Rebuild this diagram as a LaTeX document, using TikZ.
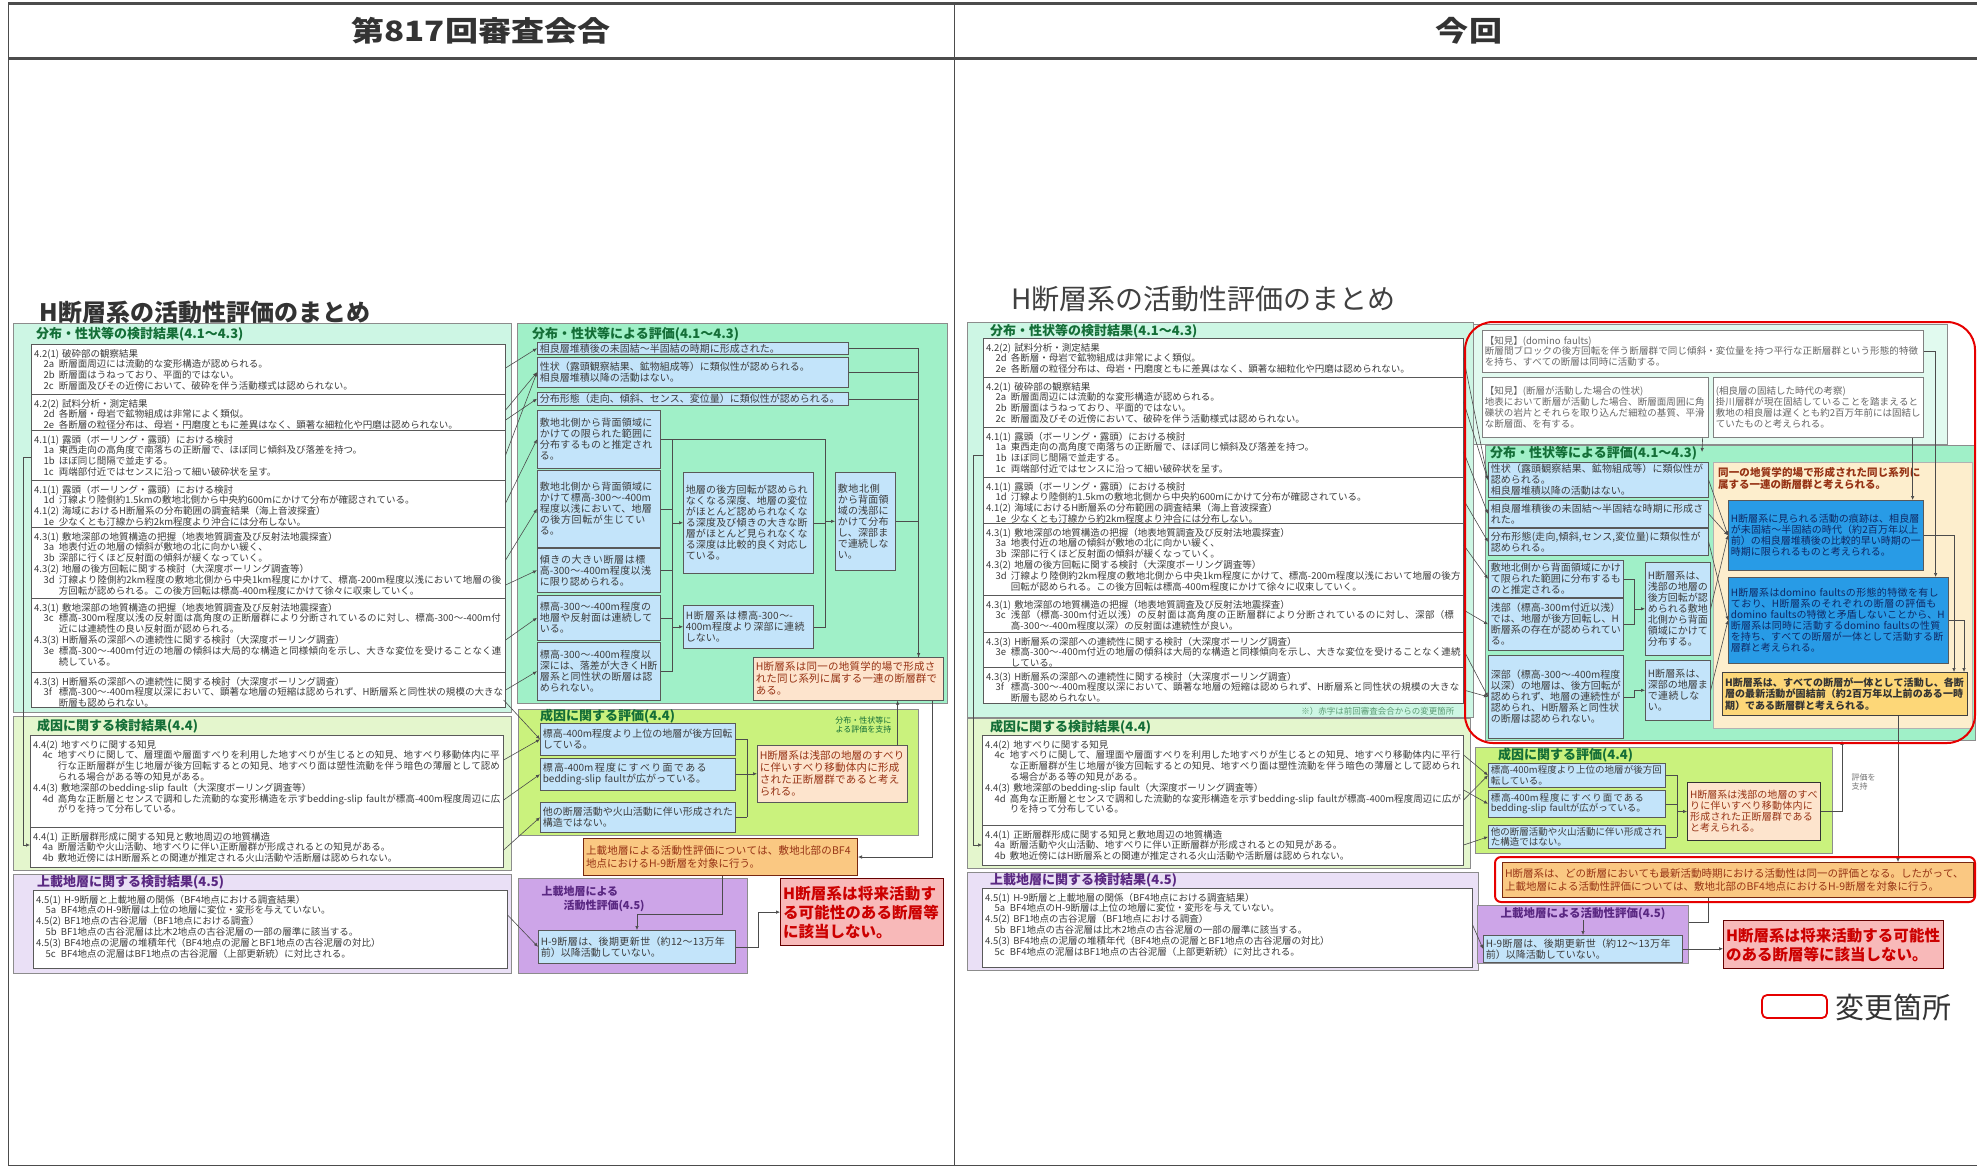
\documentclass[tikz,border=0pt]{standalone}
\usepackage{fontspec}
\setmainfont{Noto Sans CJK JP}
\XeTeXlinebreaklocale "ja"
\XeTeXlinebreakskip=0pt plus 1pt
\usetikzlibrary{arrows.meta, calc}
\definecolor{fillMint}{RGB}{205,246,228}
\definecolor{fillMintB}{RGB}{160,240,200}
\definecolor{fillLime}{RGB}{228,246,205}
\definecolor{fillLimeB}{RGB}{202,242,125}
\definecolor{fillLav}{RGB}{234,224,246}
\definecolor{fillLavB}{RGB}{205,165,232}
\definecolor{fillBlue}{RGB}{195,228,250}
\definecolor{fillDeep}{RGB}{40,155,230}
\definecolor{fillPeach}{RGB}{253,228,205}
\definecolor{fillOrange}{RGB}{250,200,130}
\definecolor{fillPink}{RGB}{248,185,185}
\definecolor{fillGold}{RGB}{253,215,120}
\definecolor{fillCream}{RGB}{253,238,205}
\definecolor{hdgreen}{RGB}{20,110,55}
\definecolor{hdpurple}{RGB}{90,40,130}
\definecolor{txtgray}{RGB}{60,60,60}
\definecolor{brownred}{RGB}{150,50,20}
\definecolor{navytxt}{RGB}{15,40,100}
\definecolor{markred}{RGB}{230,0,0}
\newcommand{\fsz}[2]{\fontsize{#1}{#2}\selectfont}
\newcommand{\ghead}[1]{\par\noindent#1\par}
\newcommand{\gitem}[2]{{\leftskip=2.6em\noindent\hspace*{-1.6em}\makebox[1.6em][l]{#1}#2\par}}
\tikzset{
  % 表の枠
  frame/.style     = {line width=3pt, draw=black!70},
  thinframe/.style = {line width=1pt, draw=black!70},
  colhd/.style     = {font=\bfseries\fsz{28}{30}, text=black!80},
  % 区画と枠
  wh/.style 2 args = {minimum width=#1pt, minimum height=#2pt, text width=#1pt-5pt},
  sec/.style       = {draw=black!45, line width=0.8pt, anchor=north west, inner sep=0pt},
  txtbox/.style    = {draw=black!65, fill=white, line width=0.6pt, anchor=north west, inner sep=0pt},
  divline/.style   = {draw=black!65, line width=0.6pt},
  note/.style      = {anchor=north west, inner sep=1pt, align=left, text=txtgray, font=\fsz{9.5}{10.8}},
  sechd/.style     = {anchor=west, inner sep=0pt, font=\bfseries\fsz{13}{14}, text=hdgreen},
  % 評価の箱
  bluebox/.style   = {draw=black!65, fill=fillBlue, line width=0.6pt, anchor=north west, inner sep=2pt,
                      align=left, text=txtgray, font=\fsz{10}{11}},
  deepbox/.style   = {bluebox, fill=fillDeep, text=navytxt},
  peachbox/.style  = {bluebox, fill=fillPeach, text=brownred, font=\fsz{10.5}{12}},
  orangebox/.style = {bluebox, fill=fillOrange, draw=brownred!80!black, line width=1pt, text=brownred,
                      font=\fsz{10.5}{13}},
  goldbox/.style   = {bluebox, fill=fillGold, draw=black!75, line width=1pt, text=black!80,
                      font=\bfseries\fsz{10}{11.5}},
  pinkbox/.style   = {bluebox, fill=fillPink, draw=red!40!black, line width=1.2pt, text=red!80!black,
                      font=\bfseries\fsz{15.5}{19}},
  knowbox/.style   = {bluebox, fill=white, draw=black!50, text=black!60, font=\fsz{9.5}{10.8}},
  % 矢印
  lin/.style       = {draw=black!70, line width=0.6pt},
  arr/.style       = {lin, -{Latex[length=4pt, width=3.5pt]}},
}
\begin{document}
\begin{tikzpicture}[x=1pt, y=-1pt]
  \useasboundingbox (0,0) rectangle (1977,1168);
  \fill[white] (0,0) rectangle (1977,1168);
  % 表の枠と見出し
  \draw[frame] (8,3) -- (1977,3);
  \draw[frame] (8,58) -- (1977,58);
  \draw[thinframe] (8,3) -- (8,1165) -- (1977,1165);
  \draw[thinframe] (954,3) -- (954,1165);
  \node[colhd] (hdold) at (481,31) {\scalebox{1.18}[1]{第817回審査会合}};
  \node[colhd] (hdnew) at (1469,31) {\scalebox{1.18}[1]{今回}};

  %% ===== 第817回審査会合 =====
  \node[anchor=west, font=\bfseries\fsz{24}{26}, text=black!80] (otitle) at (36,312) {H断層系の活動性評価のまとめ};
  % 分布・性状等の検討結果
  \node[sec, fill=fillMint, wh={498}{389}] (osec1) at (13,323) {};
  \node[sechd] (osec1hd) at (36,334) {分布・性状等の検討結果(4.1～4.3)};
  \node[txtbox, wh={474}{363}] (ow1) at (31,344) {};
  \foreach \yy in {394,430,480,527,598,672} \draw[divline] (31,\yy) -- (505,\yy);
  \node[note, text width=470pt] (ot1) at (33,345) {\ghead{4.2(1) 破砕部の観察結果}
    \gitem{2a}{断層面周辺には流動的な変形構造が認められる。}
    \gitem{2b}{断層面はうねっており、平面的ではない。}
    \gitem{2c}{断層面及びその近傍において、破砕を伴う活動様式は認められない。}};
  \node[note, text width=470pt] (ot2) at (33,395) {\ghead{4.2(2) 試料分析・測定結果}
    \gitem{2d}{各断層・母岩で鉱物組成は非常によく類似。}
    \gitem{2e}{各断層の粒径分布は、母岩・円磨度ともに差異はなく、顕著な細粒化や円磨は認められない。}};
  \node[note, text width=470pt] (ot3) at (33,431) {\ghead{4.1(1) 露頭（ボーリング・露頭）における検討}
    \gitem{1a}{東西走向の高角度で南落ちの正断層で、ほぼ同じ傾斜及び落差を持つ。}
    \gitem{1b}{ほぼ同じ間隔で並走する。}
    \gitem{1c}{両端部付近ではセンスに沿って細い破砕状を呈す。}};
  \node[note, text width=470pt] (ot4) at (33,481) {\ghead{4.1(1) 露頭（ボーリング・露頭）における検討}
    \gitem{1d}{汀線より陸側約1.5kmの敷地北側から中央約600mにかけて分布が確認されている。}
    \ghead{4.1(2) 海域におけるH断層系の分布範囲の調査結果（海上音波探査）}
    \gitem{1e}{少なくとも汀線から約2km程度より沖合には分布しない。}};
  \node[note, text width=470pt] (ot5) at (33,528) {\ghead{4.3(1) 敷地深部の地質構造の把握（地表地質調査及び反射法地震探査）}
    \gitem{3a}{地表付近の地層の傾斜が敷地の北に向かい緩く、}
    \gitem{3b}{深部に行くほど反射面の傾斜が緩くなっていく。}
    \ghead{4.3(2) 地層の後方回転に関する検討（大深度ボーリング調査等）}
    \gitem{3d}{汀線より陸側約2km程度の敷地北側から中央1km程度にかけて、標高-200m程度以浅において地層の後方回転が認められる。この後方回転は標高-400m程度にかけて徐々に収束していく。}};
  \node[note, text width=470pt] (ot6) at (33,599) {\ghead{4.3(1) 敷地深部の地質構造の把握（地表地質調査及び反射法地震探査）}
    \gitem{3c}{標高-300m程度以浅の反射面は高角度の正断層群により分断されているのに対し、標高-300～-400m付近には連続性の良い反射面が認められる。}
    \ghead{4.3(3) H断層系の深部への連続性に関する検討（大深度ボーリング調査）}
    \gitem{3e}{標高-300～-400m付近の地層の傾斜は大局的な構造と同様傾向を示し、大きな変位を受けることなく連続している。}};
  \node[note, text width=470pt] (ot7) at (33,673) {\ghead{4.3(3) H断層系の深部への連続性に関する検討（大深度ボーリング調査）}
    \gitem{3f}{標高-300～-400m程度以深において、顕著な地層の短縮は認められず、H断層系と同性状の規模の大きな断層も認められない。}};

  % 分布・性状等による評価
  \node[sec, fill=fillMintB, wh={430}{380}] (oev) at (517,323) {};
  \node[sechd] (oevhd) at (532,334) {分布・性状等による評価(4.1～4.3)};
  \node[bluebox, wh={311}{12}, inner sep=0.5pt] (ob1) at (537,342) {相良層堆積後の未固結～半固結の時期に形成された。};
  \node[bluebox, wh={311}{30}] (ob2) at (537,357) {性状（露頭観察結果、鉱物組成等）に類似性が認められる。\\相良層堆積以降の活動はない。};
  \node[bluebox, wh={311}{13}, inner sep=0.5pt] (ob3) at (537,392) {分布形態（走向、傾斜、センス、変位量）に類似性が認められる。};
  \node[bluebox, wh={123}{58}] (ob4) at (537,410) {敷地北側から背面領域にかけての限られた範囲に分布するものと推定される。};
  \node[bluebox, wh={123}{77}] (ob5) at (537,470) {敷地北側から背面領域にかけて標高-300～-400m程度以浅において、地層の後方回転が生じている。};
  \node[bluebox, wh={123}{44}] (ob6) at (537,548) {傾きの大きい断層は標高-300～-400m程度以浅に限り認められる。};
  \node[bluebox, wh={123}{45}] (ob7) at (537,595) {標高-300～-400m程度の地層や反射面は連続している。};
  \node[bluebox, wh={123}{58}] (ob8) at (537,642) {標高-300～-400m程度以深には、落差が大きくH断層系と同性状の断層は認められない。};
  \node[bluebox, wh={130}{101}] (om1) at (683,472) {地層の後方回転が認められなくなる深度、地層の変位がほとんど認められなくなる深度及び傾きの大きな断層がほとんど見られなくなる深度は比較的良く対応している。};
  \node[bluebox, wh={130}{43}] (om2) at (683,605) {H断層系は標高-300～-400m程度より深部に連続しない。};
  \node[bluebox, wh={60}{98}] (or1) at (835,472) {敷地北側から背面領域の浅部にかけて分布し、深部まで連続しない。};
  \node[peachbox, wh={190}{43}] (oc1) at (753,657) {H断層系は同一の地質学的場で形成された同じ系列に属する一連の断層群である。};

  % 成因に関する検討結果
  \node[sec, fill=fillLime, wh={498}{154}] (osec4) at (13,716) {};
  \node[sechd] (osec4hd) at (37,726) {成因に関する検討結果(4.4)};
  \node[txtbox, wh={473}{132}] (ow4) at (30,735) {};
  \draw[divline] (30,827) -- (503,827);
  \node[note, text width=469pt] (ot8) at (32,736) {\ghead{4.4(2) 地すべりに関する知見}
    \gitem{4c}{地すべりに関して、層理面や層面すべりを利用した地すべりが生じるとの知見、地すべり移動体内に平行な正断層群が生じ地層が後方回転するとの知見、地すべり面は塑性流動を伴う暗色の薄層として認められる場合がある等の知見がある。}
    \ghead{4.4(3) 敷地深部のbedding-slip fault（大深度ボーリング調査等）}
    \gitem{4d}{高角な正断層とセンスで調和した流動的な変形構造を示すbedding-slip faultが標高-400m程度周辺に広がりを持って分布している。}};
  \node[note, text width=469pt] (ot9) at (32,828) {\ghead{4.4(1) 正断層群形成に関する知見と敷地周辺の地質構造}
    \gitem{4a}{断層活動や火山活動、地すべりに伴い正断層群が形成されるとの知見がある。}
    \gitem{4b}{敷地近傍にはH断層系との関連が推定される火山活動や活断層は認められない。}};

  % 上載地層に関する検討結果
  \node[sec, fill=fillLav, wh={498}{99}] (osec5) at (13,874) {};
  \node[sechd, text=hdpurple] (osec5hd) at (37,882) {上載地層に関する検討結果(4.5)};
  \node[txtbox, wh={474}{78}] (ow5) at (33,890) {};
  \node[note, text width=470pt] (ot10) at (35,891) {\ghead{4.5(1) H-9断層と上載地層の関係（BF4地点における調査結果）}
    \gitem{5a}{BF4地点のH-9断層は上位の地層に変位・変形を与えていない。}
    \ghead{4.5(2) BF1地点の古谷泥層（BF1地点における調査）}
    \gitem{5b}{BF1地点の古谷泥層は比木2地点の古谷泥層の一部の層準に該当する。}
    \ghead{4.5(3) BF4地点の泥層の堆積年代（BF4地点の泥層とBF1地点の古谷泥層の対比）}
    \gitem{5c}{BF4地点の泥層はBF1地点の古谷泥層（上部更新統）に対比される。}};

  % 成因に関する評価
  \node[sec, fill=fillLimeB, wh={400}{126}] (oev4) at (518,709) {};
  \node[sechd] (oev4hd) at (540,716) {成因に関する評価(4.4)};
  \node[anchor=east, align=right, font=\fsz{8}{9.5}, text=hdgreen] (osup) at (895,725) {分布・性状等に\\よる評価を支持};
  \node[bluebox, wh={195}{32}] (og1) at (540,723) {標高-400m程度より上位の地層が後方回転している。};
  \node[bluebox, wh={195}{32}] (og2) at (540,758) {標高-400m程度にすべり面であるbedding-slip faultが広がっている。};
  \node[bluebox, wh={195}{30}] (og3) at (540,802) {他の断層活動や火山活動に伴い形成された構造ではない。};
  \node[peachbox, wh={150}{57}] (ogp) at (757,745) {H断層系は浅部の地層のすべりに伴いすべり移動体内に形成された正断層群であると考えられる。};

  % 上載地層による活動性評価
  \node[orangebox, wh={274}{37}] (ob45) at (583,838) {上載地層による活動性評価については、敷地北部のBF4地点におけるH-9断層を対象に行う。};
  \node[sec, fill=fillLavB, wh={229}{95}] (opur) at (518,878) {};
  \node[anchor=north west, align=left, font=\bfseries\fsz{11}{14}, text=hdpurple] (opurhd) at (538,883) {上載地層による\\\hspace*{2em}活動性評価(4.5)};
  \node[bluebox, wh={197}{33}] (oh9) at (538,930) {H-9断層は、後期更新世（約12～13万年前）以降活動していない。};
  \node[pinkbox, wh={163}{67}] (opk) at (780,878) {H断層系は将来活動する可能性のある断層等に該当しない。};

  % 矢印（第817回）
  \foreach \sy/\tg in {368/ob1, 410/ob2, 420/ob3, 455/ob2, 503/ob4, 560/ob5, 585/ob6, 640/ob7, 690/ob8}
    \draw[arr] (ow1.east |- 0,\sy) -- (\tg.west);
  \foreach \sy/\tg in {700/og1, 760/og1, 800/og2, 850/og3}
    \draw[arr] (ow4.east |- 0,\sy) -- (\tg.west);
  \draw[arr] (ow5.east |- 0,915) -- (oh9.west);
  \draw[arr] (ow1.west |- 0,457) -- ++(-8,0) |- (ow4.west |- 0,845);
  \draw[lin] (ob2.east) -| ($(oc1.north east)+(-25,0)$);
  \draw[lin] (ob3.east) -| ($(oc1.north east)+(-25,0)$);
  \draw[lin] (or1.east) -| ($(oc1.north east)+(-25,0)$);
  \draw[arr] (ob1.east) -| ($(oc1.north east)+(-25,0)$);
  \coordinate (ojA) at (672,0);
  \coordinate (ojB) at (825,0);
  \draw[lin] (ob4.east) -- (ob4.east -| ojB) -- (om2.east -| ojB) -- (om2.east);
  \draw[lin] (om1.east) -- (om1.east -| ojB);
  \draw[arr] (or1.west -| ojB) -- (or1.west);
  \draw[lin] (ob4.east -| ojA) -- (ob8.east -| ojA) -- (ob8.east);
  \foreach \b in {ob5,ob6,ob7} \draw[lin] (\b.east) -- (\b.east -| ojA);
  \draw[arr] (om1.west -| ojA) -- (om1.west);
  \draw[arr] (om2.west -| ojA) -- (om2.west);
  \coordinate (ojG) at (747,0);
  \foreach \b in {og1,og2,og3} \draw[lin] (\b.east) -- (\b.east -| ojG);
  \draw[lin] (og1.east -| ojG) -- (og3.east -| ojG);
  \draw[arr] (ogp.west -| ojG) -- (ogp.west);
  \draw[arr] ($(ogp.north east)+(-10,0)$) -- ($(oc1.south east)+(-46,0)$);
  \draw[arr] ($(oc1.south east)+(-11,0)$) |- (ob45.east);
  \draw[arr] ($(ob45.south west)+(139,0)$) -- ++(0,38) -| ($(oh9.north west)+(99,0)$);
  \draw[arr] (oh9.east) -- ++(23,0) |- (opk.west);

  %% ===== 今回 =====
  \node[anchor=west, font=\fsz{28}{30}, text=black!75] (ntitle) at (1008,299) {H断層系の活動性評価のまとめ};
  \node[sec, fill=fillMint, wh={506}{395}] (nsec1) at (967,322) {};
  \node[sechd] (nsec1hd) at (990,331) {分布・性状等の検討結果(4.1～4.3)};
  \node[txtbox, wh={480}{365}] (nw1) at (983,338) {};
  \foreach \yy in {377,427,477,523,595,632,667} \draw[divline] (983,\yy) -- (1463,\yy);
  \node[note, text width=476pt] (nt1) at (985,339) {\ghead{4.2(2) 試料分析・測定結果}
    \gitem{2d}{各断層・母岩で鉱物組成は非常によく類似。}
    \gitem{2e}{各断層の粒径分布は、母岩・円磨度ともに差異はなく、顕著な細粒化や円磨は認められない。}};
  \node[note, text width=476pt] (nt2) at (985,378) {\ghead{4.2(1) 破砕部の観察結果}
    \gitem{2a}{断層面周辺には流動的な変形構造が認められる。}
    \gitem{2b}{断層面はうねっており、平面的ではない。}
    \gitem{2c}{断層面及びその近傍において、破砕を伴う活動様式は認められない。}};
  \node[note, text width=476pt] (nt3) at (985,428) {\ghead{4.1(1) 露頭（ボーリング・露頭）における検討}
    \gitem{1a}{東西走向の高角度で南落ちの正断層で、ほぼ同じ傾斜及び落差を持つ。}
    \gitem{1b}{ほぼ同じ間隔で並走する。}
    \gitem{1c}{両端部付近ではセンスに沿って細い破砕状を呈す。}};
  \node[note, text width=476pt] (nt4) at (985,478) {\ghead{4.1(1) 露頭（ボーリング・露頭）における検討}
    \gitem{1d}{汀線より陸側約1.5kmの敷地北側から中央約600mにかけて分布が確認されている。}
    \ghead{4.1(2) 海域におけるH断層系の分布範囲の調査結果（海上音波探査）}
    \gitem{1e}{少なくとも汀線から約2km程度より沖合には分布しない。}};
  \node[note, text width=476pt] (nt5) at (985,524) {\ghead{4.3(1) 敷地深部の地質構造の把握（地表地質調査及び反射法地震探査）}
    \gitem{3a}{地表付近の地層の傾斜が敷地の北に向かい緩く、}
    \gitem{3b}{深部に行くほど反射面の傾斜が緩くなっていく。}
    \ghead{4.3(2) 地層の後方回転に関する検討（大深度ボーリング調査等）}
    \gitem{3d}{汀線より陸側約2km程度の敷地北側から中央1km程度にかけて、標高-200m程度以浅において地層の後方回転が認められる。この後方回転は標高-400m程度にかけて徐々に収束していく。}};
  \node[note, text width=476pt] (nt6) at (985,596) {\ghead{4.3(1) 敷地深部の地質構造の把握（地表地質調査及び反射法地震探査）}
    \gitem{3c}{浅部（標高-300m付近以浅）の反射面は高角度の正断層群により分断されているのに対し、深部（標高-300～-400m程度以深）の反射面は連続性が良い。}};
  \node[note, text width=476pt] (nt7) at (985,633) {\ghead{4.3(3) H断層系の深部への連続性に関する検討（大深度ボーリング調査）}
    \gitem{3e}{標高-300～-400m付近の地層の傾斜は大局的な構造と同様傾向を示し、大きな変位を受けることなく連続している。}};
  \node[note, text width=476pt] (nt8) at (985,668) {\ghead{4.3(3) H断層系の深部への連続性に関する検討（大深度ボーリング調査）}
    \gitem{3f}{標高-300～-400m程度以深において、顕著な地層の短縮は認められず、H断層系と同性状の規模の大きな断層も認められない。}};
  \node[anchor=east, font=\fsz{8.5}{9.5}, text=hdgreen!70] (nfoot) at (1458,711) {※）赤字は前回審査会合からの変更箇所};

  % 知見
  \node[sec, fill=fillMint!60, wh={474}{120}] (nkn) at (1473,324) {};
  \node[knowbox, wh={441}{42}] (nkn1) at (1482,330) {【知見】(domino faults)\\断層間ブロックの後方回転を伴う断層群で同じ傾斜・変位量を持つ平行な正断層群という形態的特徴を持ち、すべての断層は同時に活動する。};
  \node[knowbox, wh={226}{60}] (nkn2) at (1482,377) {【知見】(断層が活動した場合の性状)\\地表において断層が活動した場合、断層面周囲に角礫状の岩片とそれらを取り込んだ細粒の基質、平滑な断層面、を有する。};
  \node[knowbox, wh={210}{60}] (nkn3) at (1713,377) {(相良層の固結した時代の考察)\\掛川層群が現在固結していることを踏まえると敷地の相良層は遅くとも約2百万年前には固結していたものと考えられる。};

  % 分布・性状等による評価
  \node[sec, fill=fillMintB, wh={490}{295}] (nev) at (1485,445) {};
  \node[sechd] (nevhd) at (1490,453) {分布・性状等による評価(4.1～4.3)};
  \coordinate (nevmark) at (1702,452);
  \node[bluebox, wh={220}{35}] (ne1) at (1488,462) {性状（露頭観察結果、鉱物組成等）に類似性が認められる。\\相良層堆積以降の活動はない。};
  \node[bluebox, wh={220}{27}] (ne2) at (1488,500) {相良層堆積後の未固結～半固結な時期に形成された。};
  \node[bluebox, wh={220}{27}] (ne3) at (1488,528) {分布形態(走向,傾斜,センス,変位量)に類似性が認められる。};
  \node[bluebox, wh={135}{37}] (ne4) at (1488,560) {敷地北側から背面領域にかけて限られた範囲に分布するものと推定される。};
  \node[bluebox, wh={135}{52}] (ne5) at (1488,598) {浅部（標高-300m付近以浅）では、地層が後方回転し、H断層系の存在が認められている。};
  \node[bluebox, wh={135}{83}] (ne6) at (1488,655) {深部（標高-300～-400m程度以深）の地層は、後方回転が認められず、地層の連続性が認められ、H断層系と同性状の断層は認められない。};
  \node[bluebox, wh={65}{93}] (ne7) at (1645,562) {H断層系は、浅部の地層の後方回転が認められる敷地北側から背面領域にかけて分布する。};
  \node[bluebox, wh={65}{60}] (ne8) at (1645,660) {H断層系は、深部の地層まで連続しない。};
  \node[sec, fill=fillCream, draw=black!30, wh={259}{266}] (ncrm) at (1713,462) {};
  \node[anchor=north west, align=left, text width=205pt, inner sep=1pt, font=\bfseries\fsz{10.5}{12.5}, text=brownred] (ncrmtxt) at (1717,466) {同一の地質学的場で形成された同じ系列に属する一連の断層群と考えられる。};
  \node[deepbox, wh={195}{70}] (nd1) at (1728,500) {H断層系に見られる活動の痕跡は、相良層が未固結～半固結の時代（約2百万年以上前）の相良層堆積後の比較的早い時期の一時期に限られるものと考えられる。};
  \node[deepbox, wh={220}{86}] (nd2) at (1728,577) {H断層系はdomino faultsの形態的特徴を有しており、H断層系のそれぞれの断層の評価もdomino faultsの特徴と矛盾しないことから、H断層系は同時に活動するdomino faultsの性質を持ち、すべての断層が一体として活動する断層群と考えられる。};
  \node[goldbox, wh={245}{43}] (ny1) at (1722,672) {H断層系は、すべての断層が一体として活動し、各断層の最新活動が固結前（約2百万年以上前のある一時期）である断層群と考えられる。};

  % 成因・上載地層の検討結果
  \node[sec, fill=fillLime, wh={503}{150}] (nsec4) at (967,718) {};
  \node[sechd] (nsec4hd) at (990,727) {成因に関する検討結果(4.4)};
  \node[txtbox, wh={481}{130}] (nw4) at (982,735) {};
  \draw[divline] (982,825) -- (1463,825);
  \node[note, text width=477pt] (nt9) at (984,736) {\ghead{4.4(2) 地すべりに関する知見}
    \gitem{4c}{地すべりに関して、層理面や層面すべりを利用した地すべりが生じるとの知見、地すべり移動体内に平行な正断層群が生じ地層が後方回転するとの知見、地すべり面は塑性流動を伴う暗色の薄層として認められる場合がある等の知見がある。}
    \ghead{4.4(3) 敷地深部のbedding-slip fault（大深度ボーリング調査等）}
    \gitem{4d}{高角な正断層とセンスで調和した流動的な変形構造を示すbedding-slip faultが標高-400m程度周辺に広がりを持って分布している。}};
  \node[note, text width=477pt] (nt10) at (984,826) {\ghead{4.4(1) 正断層群形成に関する知見と敷地周辺の地質構造}
    \gitem{4a}{断層活動や火山活動、地すべりに伴い正断層群が形成されるとの知見がある。}
    \gitem{4b}{敷地近傍にはH断層系との関連が推定される火山活動や活断層は認められない。}};
  \node[sec, fill=fillLav, wh={511}{98}] (nsec5) at (967,872) {};
  \node[sechd, text=hdpurple] (nsec5hd) at (990,880) {上載地層に関する検討結果(4.5)};
  \node[txtbox, wh={490}{79}] (nw5) at (982,888) {};
  \node[note, text width=486pt] (nt11) at (984,889) {\ghead{4.5(1) H-9断層と上載地層の関係（BF4地点における調査結果）}
    \gitem{5a}{BF4地点のH-9断層は上位の地層に変位・変形を与えていない。}
    \ghead{4.5(2) BF1地点の古谷泥層（BF1地点における調査）}
    \gitem{5b}{BF1地点の古谷泥層は比木2地点の古谷泥層の一部の層準に該当する。}
    \ghead{4.5(3) BF4地点の泥層の堆積年代（BF4地点の泥層とBF1地点の古谷泥層の対比）}
    \gitem{5c}{BF4地点の泥層はBF1地点の古谷泥層（上部更新統）に対比される。}};

  % 成因に関する評価
  \node[sec, fill=fillLimeB, wh={357}{106}] (nev4) at (1475,747) {};
  \node[sechd] (nev4hd) at (1498,755) {成因に関する評価(4.4)};
  \node[bluebox, wh={177}{24}, font=\fsz{9.5}{10.5}, inner sep=1pt] (nr1) at (1488,763) {標高-400m程度より上位の地層が後方回転している。};
  \node[bluebox, wh={177}{27}, font=\fsz{9.5}{10.5}, inner sep=1pt] (nr2) at (1488,790) {標高-400m程度にすべり面であるbedding-slip faultが広がっている。};
  \node[bluebox, wh={177}{23}, font=\fsz{9.5}{10.5}, inner sep=1pt] (nr3) at (1488,825) {他の断層活動や火山活動に伴い形成された構造ではない。};
  \node[peachbox, wh={133}{58}, draw=black!80, line width=1pt, font=\fsz{10}{11}] (nrp) at (1687,782) {H断層系は浅部の地層のすべりに伴いすべり移動体内に形成された正断層群であると考えられる。};
  \node[anchor=west, align=left, font=\fsz{8}{9.5}, text=black!55] (nsup) at (1848,782) {評価を\\支持};

  % 上載地層による活動性評価
  \node[orangebox, wh={471}{35}] (no45) at (1502,862) {H断層系は、どの断層においても最新活動時期における活動性は同一の評価となる。したがって、\\上載地層による活動性評価については、敷地北部のBF4地点におけるH-9断層を対象に行う。};
  \node[sec, fill=fillLavB, wh={211}{58}] (npur) at (1477,905) {};
  \node[font=\bfseries\fsz{11.5}{13}, text=hdpurple, inner sep=0pt] (npurhd) at (1583,914) {上載地層による活動性評価(4.5)};
  \node[bluebox, wh={199}{27}, inner sep=1pt] (nh9) at (1483,935) {H-9断層は、後期更新世（約12～13万年前）以降活動していない。};
  \node[pinkbox, wh={220}{48}] (npk) at (1723,920) {H断層系は将来活動する可能性のある断層等に該当しない。};

  % 矢印（今回）
  \foreach \sy/\tg in {358/ne1, 402/ne1, 452/ne2, 500/ne3, 545/ne4, 610/ne5, 650/ne6, 690/ne6}
    \draw[arr] (nw1.east |- 0,\sy) -- (\tg.west);
  \foreach \sy/\tg in {755/nr1, 790/nr2, 800/nr1, 845/nr3}
    \draw[arr] (nw4.east |- 0,\sy) -- (\tg.west);
  \draw[arr] (nw5.east |- 0,925) -- (nh9.west);
  \draw[arr] (nw1.west |- 0,455) -- ++(-10,0) |- (nw4.west |- 0,845);
  \draw[arr] (nkn1.east) -| ($(nd2.north east)+(-13,0)$);
  \draw[arr] ($(nkn3.south east)+(-11,0)$) -- ($(nd1.north east)+(-11,0)$);
  \draw[arr] ($(nkn2.south east)+(-6,0)$) -- (nevmark);
  \draw[arr] (ne1.east) -- (nd1.west);
  \draw[arr] (ne2.east) -- (nd1.west);
  \draw[arr] (ne7.east) -- (nd1.west);
  \draw[arr] (ne3.east) -- (nd2.west);
  \draw[arr] (ne8.east) -- (nd2.west);
  \coordinate (njA) at (1634,0);
  \draw[lin] (ne4.east) -- (ne4.east -| njA) -- (ne5.east -| njA) -- (ne5.east);
  \draw[arr] (ne7.west -| njA) -- (ne7.west);
  \draw[arr] (ne6.east) -- (ne6.east -| njA) |- (ne8.west);
  \draw[arr] (nd1.east) -| ($(ny1.north east)+(-14,0)$);
  \draw[arr] (nd2.east) -| ($(ny1.north east)+(-4,0)$);
  \draw[arr] ($(ny1.south west)+(176,0)$) -- ($(no45.north west)+(396,0)$);
  \coordinate (njG) at (1677,0);
  \foreach \b in {nr1,nr2,nr3} \draw[lin] (\b.east) -- (\b.east -| njG);
  \draw[lin] (nr1.east -| njG) -- (nr3.east -| njG);
  \draw[arr] (nrp.west -| njG) -- (nrp.west);
  \draw[arr] (nrp.east) -| ($(nev.south west)+(357,0)$);
  \draw[lin] ($(no45.south west)+(206,0)$) |- ($(npur.north east)+(0,17)$);
  \draw[arr] (npurhd.south) -- (npurhd.south |- nh9.north);
  \draw[arr] (nh9.east) -- (nh9.east -| npk.west);

  % 変更箇所
  \draw[markred, line width=2pt, rounded corners=28pt] (1465,322) rectangle (1975,743);
  \draw[markred, line width=2pt, rounded corners=6pt] (1495,857) rectangle (1975,902);
  \draw[markred, line width=1.8pt, rounded corners=5pt] (1762,995) rectangle (1827,1018);
  \node[anchor=west, font=\fsz{29}{31}, text=black!80, inner sep=0pt] (nlegend) at (1835,1007) {変更箇所};
\end{tikzpicture}
\end{document}
